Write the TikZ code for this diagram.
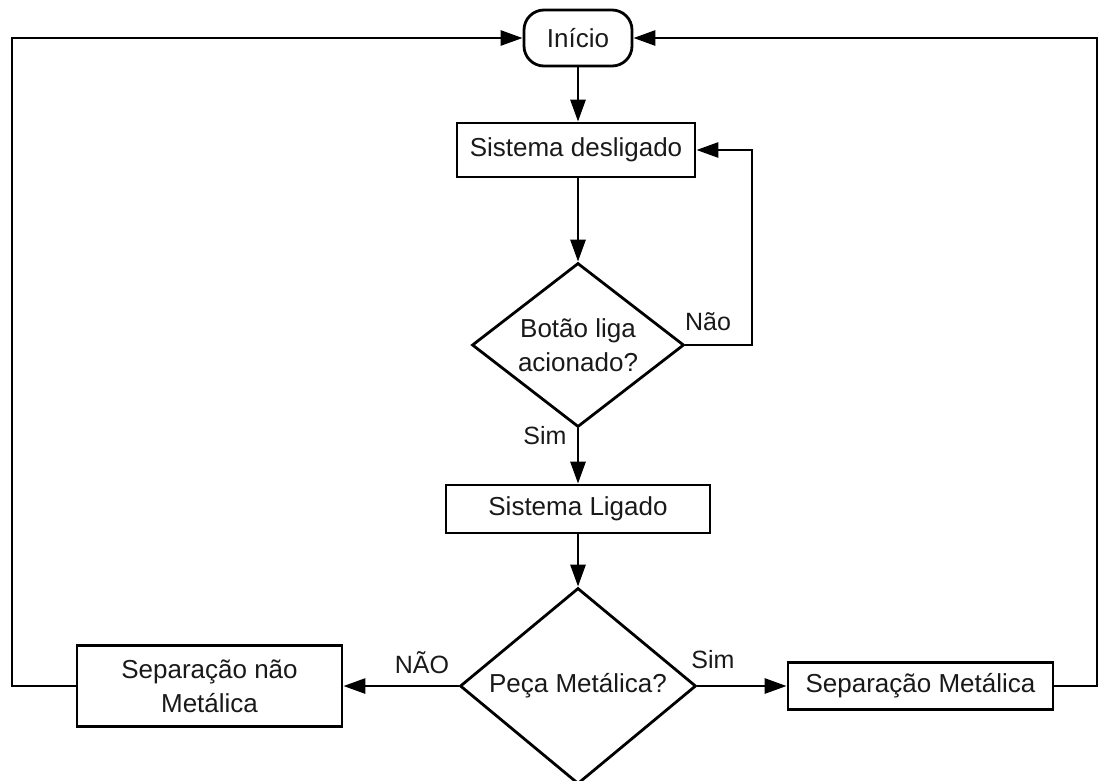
\documentclass[tikz,border=0pt]{standalone}
\usepackage{fontspec}
\setmainfont{Liberation Sans}
\usetikzlibrary{shapes.geometric,arrows.meta,calc}
\begin{document}
\begin{tikzpicture}[x=1pt,y=-1pt,
  line width=2.8pt,
  every node/.style={font=\fontsize{26}{34}\selectfont, text=black!90},
  box/.style={draw=black, rectangle, inner sep=0pt, align=center},
  term/.style={draw=black, rectangle, rounded corners=20pt, inner sep=0pt},
  dec/.style={draw=black, diamond, inner sep=0pt, align=center},
  lbl/.style={font=\fontsize{25}{30}\selectfont, inner sep=0pt},
  arr/.style={-{Triangle[length=22pt,width=15pt]}}
]
\useasboundingbox (0,0) rectangle (1099,780);

\node[term, minimum width=108pt, minimum height=56pt] (inicio) at (578,38) {Início};
\node[box, minimum width=238pt, minimum height=54pt] (desl) at (576,150) {Sistema desligado};
\node[dec, minimum width=212pt, minimum height=164pt, aspect=1.29] (bot) at (578,345) {Botão liga\\acionado?};
\node[box, minimum width=264pt, minimum height=48pt] (lig) at (578,509) {Sistema Ligado};
\node[dec, minimum width=236pt, minimum height=196pt, aspect=1.2] (peca) at (578,686) {Peça Metálica?};
\node[box, minimum width=265pt, minimum height=81pt] (snm) at (209.5,686) {Separação não\\Metálica};
\node[box, minimum width=265pt, minimum height=47pt] (sm) at (920.5,686) {Separação Metálica};

\coordinate (L) at (12,0);
\coordinate (R) at (1097,0);
\coordinate (N) at (752,0);

\draw[arr] (inicio.south) -- (inicio.south |- desl.north);
\draw[arr] (inicio.south |- desl.south) -- (bot.north);
\draw[arr] (bot.south) -- (lig.north);
\draw[arr] (lig.south) -- (peca.north);
\draw[arr] (bot.east) -- (bot.east -| N) -- (desl.east -| N) -- (desl.east);
\draw[arr] (peca.west) -- (snm.east);
\draw[arr] (peca.east) -- (sm.west);
\draw[arr] (snm.west) -- (snm.west -| L) -- (inicio.west -| L) -- (inicio.west);
\draw[arr] (sm.east) -- (sm.east -| R) -- (inicio.east -| R) -- (inicio.east);

\node[lbl] (lnao) at (708,322) {Não};
\node[lbl] (lsim1) at (545,436) {Sim};
\node[lbl] (lnao2) at (422,663) {NÃO};
\node[lbl] (lsim2) at (713,660) {Sim};
\end{tikzpicture}
\end{document}
